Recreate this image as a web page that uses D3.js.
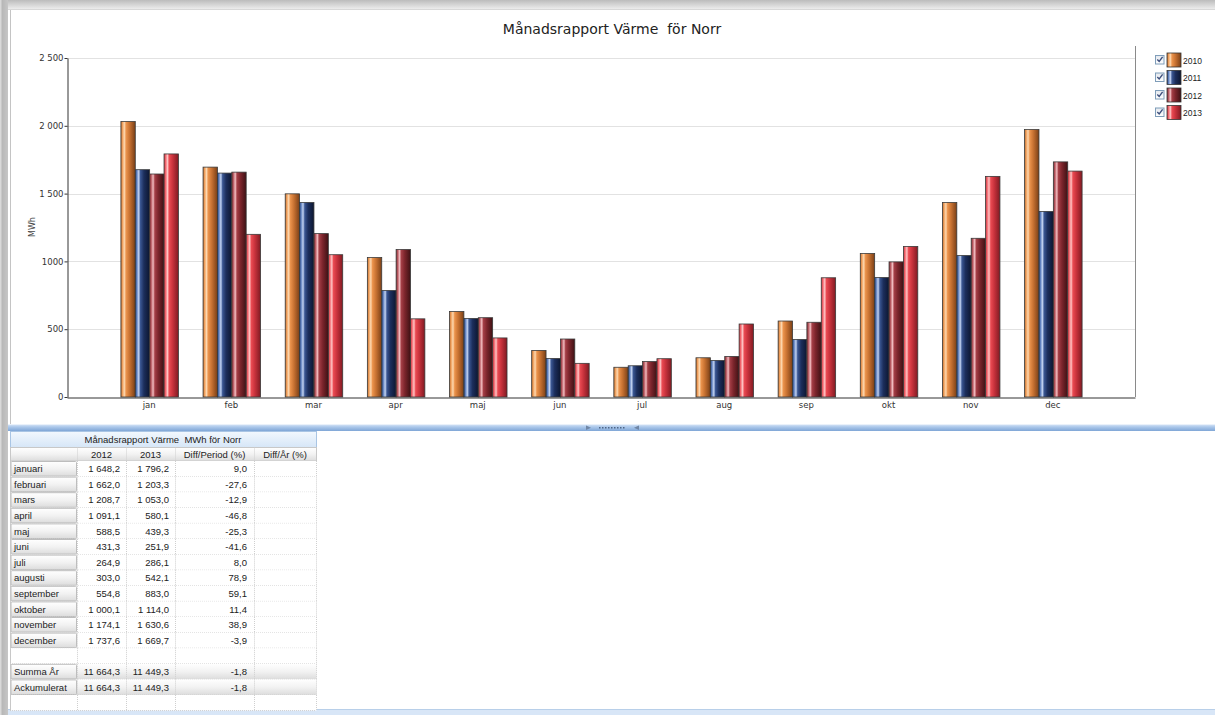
<!DOCTYPE html>
<html><head><meta charset="utf-8">
<script src="https://cdn.jsdelivr.net/npm/d3@7"></script>
<style>html,body{margin:0;padding:0;background:#fff;overflow:hidden}</style>
</head><body>
<svg id="c" width="1215" height="715" xmlns="http://www.w3.org/2000/svg"></svg>
<script>
// ---------- data ----------
const chartTitle = "Månadsrapport Värme  för Norr";
const yAxisTitle = "MWh";
const months = ["jan","feb","mar","apr","maj","jun","jul","aug","sep","okt","nov","dec"];
const years = ["2010","2011","2012","2013"];
const values2010 = [2035,1699,1502,1032,634,347,223,293,564,1062,1438,1976];
const values2011 = [1680,1655,1438,789,583,288,234,273,428,885,1047,1372];
const values2012 = [1648.2,1662.0,1208.7,1091.1,588.5,431.3,264.9,303.0,554.8,1000.1,1174.1,1737.6];
const values2013 = [1796.2,1203.3,1053.0,580.1,439.3,251.9,286.1,542.1,883.0,1114.0,1630.6,1669.7];
const yTickValues = [0,500,1000,1500,2000,2500];
const yTickLabels = ["0","500","1000","1 500","2 000","2 500"];

const tableTitle = "Månadsrapport Värme  MWh för Norr";
const tableHeaders = ["2012","2013","Diff/Period (%)","Diff/År (%)"];
const tableMonths = ["januari","februari","mars","april","maj","juni","juli","augusti","september","oktober","november","december"];
const diffPeriod = [9.0,-27.6,-12.9,-46.8,-25.3,-41.6,8.0,78.9,59.1,11.4,38.9,-3.9];
const summaryLabels = ["Summa År","Ackumulerat"];
const summary2012 = [11664.3,11664.3];
const summary2013 = [11449.3,11449.3];
const summaryDiff = [-1.8,-1.8];

// ---------- setup ----------
const series = [values2010, values2011, values2012, values2013];
const svg = d3.select("#c");
const defs = svg.append("defs");
const FONT = "'DejaVu Sans', Verdana, sans-serif";
const TFONT = "'Liberation Sans', Arial, sans-serif";

function lin(id, stops, vertical) {
  const g = defs.append("linearGradient").attr("id", id)
    .attr("x1", 0).attr("y1", 0).attr("x2", vertical ? 0 : 1).attr("y2", vertical ? 1 : 0);
  stops.forEach(s => g.append("stop").attr("offset", s[0]).attr("stop-color", s[1]));
}
const barStops = {
  "2010": [[0,"#b5682c"],[0.1,"#ee9c58"],[0.24,"#fdd8b0"],[0.36,"#eb934c"],[0.6,"#c87232"],[1,"#7a3f16"]],
  "2011": [[0,"#2a4272"],[0.1,"#5a7cbc"],[0.24,"#c4d4f2"],[0.36,"#3a5692"],[0.6,"#1c2e5c"],[1,"#0c1630"]],
  "2012": [[0,"#7c2c32"],[0.1,"#b4545c"],[0.24,"#f2bcc0"],[0.36,"#a43e46"],[0.6,"#7c252c"],[1,"#3e1114"]],
  "2013": [[0,"#c4323a"],[0.1,"#f0626a"],[0.24,"#ffc4c4"],[0.36,"#ea4a52"],[0.6,"#c8323c"],[1,"#801a22"]]
};
years.forEach(y => lin("g" + y, barStops[y], false));
lin("topShade", [[0,"#bcbcbc"],[1,"#ececec"]], true);
lin("leftShade", [[0,"#e2e2e2"],[0.3,"#b8b8b8"],[1,"#c6c6c6"]], false);
lin("splitter", [[0,"#d4e3f6"],[0.4,"#a9c6ea"],[1,"#7fa6d6"]], true);
lin("blueHead", [[0,"#f2f8fe"],[1,"#d6e6f7"]], true);
lin("grayCell", [[0,"#ffffff"],[0.5,"#f2f2f2"],[1,"#dcdcdc"]], true);
lin("chk", [[0,"#e4e8ee"],[1,"#ffffff"]], true);

// ---------- window chrome ----------
svg.append("rect").attr("x",0).attr("y",0).attr("width",1215).attr("height",715).attr("fill","#fff");
svg.append("rect").attr("x",0).attr("y",0).attr("width",1215).attr("height",9).attr("fill","url(#topShade)");
svg.append("rect").attr("x",0).attr("y",0).attr("width",8).attr("height",715).attr("fill","url(#leftShade)");
svg.append("line").attr("x1",10.5).attr("x2",10.5).attr("y1",9).attr("y2",424).attr("stroke","#c4c4c4");
svg.append("line").attr("x1",8).attr("x2",1215).attr("y1",9.5).attr("y2",9.5).attr("stroke","#d8d8d8");

// ---------- chart ----------
const plotL = 67, plotR = 1135, plotT = 58, plotB = 397;
const y = d3.scaleLinear().domain([0, 2500]).range([plotB, plotT]);
const x0 = d3.scaleBand().domain(months).range([plotL, plotR]).paddingInner(0.3).paddingOuter(0.65);
const x1 = d3.scaleBand().domain(years).range([0, x0.bandwidth()]);

// gridlines
svg.append("g").selectAll("line").data(yTickValues.filter(v => v > 0)).join("line")
  .attr("x1", plotL).attr("x2", plotR)
  .attr("y1", d => Math.round(y(d)) + 0.5).attr("y2", d => Math.round(y(d)) + 0.5)
  .attr("stroke", "#e2e2e2");
// right border
svg.append("line").attr("x1", plotR + 0.5).attr("x2", plotR + 0.5).attr("y1", 46).attr("y2", plotB)
  .attr("stroke", "#8a8a8a");

// title
svg.append("text").attr("x", 612).attr("y", 34).attr("text-anchor", "middle")
  .attr("font-family", FONT).attr("font-size", 14).attr("fill", "#222")
  .style("white-space", "pre").text(chartTitle);

// bars
const groups = svg.append("g").selectAll("g").data(months).join("g")
  .attr("transform", d => `translate(${x0(d)},0)`);
groups.selectAll("rect").data((m, i) => years.map((yr, k) => ({yr, v: series[k][i]}))).join("rect")
  .attr("x", d => x1(d.yr) + 0.5)
  .attr("y", d => y(d.v) + 0.5)
  .attr("width", x1.bandwidth())
  .attr("height", d => plotB - y(d.v) - 0.5)
  .attr("fill", d => `url(#g${d.yr})`)
  .attr("stroke", "#3a3a3a").attr("stroke-width", 0.8);

// y axis
const yAxis = d3.axisLeft(y).tickValues(yTickValues).tickSize(3).tickSizeOuter(0)
  .tickFormat((d, i) => yTickLabels[i]);
const gy = svg.append("g").attr("transform", `translate(${plotL + 0.5},0)`).call(yAxis);
gy.select(".domain").attr("stroke", "#333");
gy.selectAll(".tick line").attr("stroke", "#333");
gy.selectAll(".tick text").attr("font-family", FONT).attr("font-size", 8.5).attr("fill", "#333").attr("x", -4);

// x axis
const xAxis = d3.axisBottom(x0).tickSize(0).tickSizeOuter(0);
const gx = svg.append("g").attr("transform", `translate(0,${plotB + 0.5})`).call(xAxis);
gx.select(".domain").attr("stroke", "#333");
gx.selectAll(".tick text").attr("font-family", FONT).attr("font-size", 8.5).attr("fill", "#333").attr("dy", "0.9em");

// y title
svg.append("text").attr("transform", "translate(35,227) rotate(-90)").attr("text-anchor", "middle")
  .attr("font-family", FONT).attr("font-size", 8).attr("fill", "#444").text(yAxisTitle);

// legend
const leg = svg.append("g").selectAll("g").data(years).join("g")
  .attr("transform", (d, i) => `translate(1155,${52.5 + i * 17.5})`);
leg.append("rect").attr("x", 0.5).attr("y", 3).attr("width", 8.5).attr("height", 8.5)
  .attr("fill", "url(#chk)").attr("stroke", "#7f9db9");
leg.append("path").attr("d", "M2.3,7 L4.2,9 L7.6,4.4").attr("fill", "none")
  .attr("stroke", "#3d4f7c").attr("stroke-width", 1.4);
leg.append("rect").attr("x", 12).attr("y", 0.5).attr("width", 14).attr("height", 14)
  .attr("fill", d => `url(#g${d})`).attr("stroke", "#333").attr("stroke-width", 0.8);
leg.append("text").attr("x", 28).attr("y", 11).attr("font-family", TFONT).attr("font-size", 8.5)
  .attr("fill", "#222").text(d => d);

// ---------- splitter ----------
svg.append("rect").attr("x", 8).attr("y", 424.5).attr("width", 1207).attr("height", 6.5).attr("fill", "url(#splitter)");
svg.append("path").attr("d", "M586,425.5 L591,427.8 L586,430 Z").attr("fill", "#6f86a6");
svg.append("path").attr("d", "M639,425.5 L634,427.8 L639,430 Z").attr("fill", "#6f86a6");
svg.append("g").selectAll("rect").data(d3.range(9)).join("rect")
  .attr("x", d => 599 + d * 3).attr("y", 427).attr("width", 1.5).attr("height", 1.5).attr("fill", "#4e6688");

// bottom bar
svg.append("rect").attr("x", 8).attr("y", 709.5).attr("width", 1207).attr("height", 6).attr("fill", "#d8e6f7");
svg.append("line").attr("x1", 8).attr("x2", 1215).attr("y1", 709.5).attr("y2", 709.5).attr("stroke", "#b8cfe9");

// ---------- table ----------
const loc = d3.formatLocale({decimal: ",", thousands: "\u00a0", grouping: [3], currency: ["", ""], minus: "-"});
const fmt = loc.format(",.1f");
const colX = [10, 77, 126, 175, 254, 316];
const tbl = svg.append("g").attr("font-family", TFONT).attr("font-size", 9.5).attr("fill", "#222");
const r1T = 431.5, r1B = 447.5, r2B = 461, rowH = 15.6;

// title row
tbl.append("rect").attr("x", colX[0] + 0.5).attr("y", r1T).attr("width", colX[5] - colX[0]).attr("height", r1B - r1T)
  .attr("fill", "url(#blueHead)").attr("stroke", "#a9c5e4");
tbl.append("text").attr("x", (colX[0] + colX[5]) / 2).attr("y", r1B - 4.5).attr("text-anchor", "middle")
  .style("white-space", "pre").text(tableTitle);

// header row
tbl.append("rect").attr("x", colX[0] + 0.5).attr("y", r1B).attr("width", colX[5] - colX[0]).attr("height", r2B - r1B)
  .attr("fill", "url(#grayCell)").attr("stroke", "#c8c8c8");
tbl.selectAll(".hsep").data(colX.slice(1, 5)).join("line")
  .attr("x1", d => d + 0.5).attr("x2", d => d + 0.5).attr("y1", r1B).attr("y2", r2B)
  .attr("stroke", "#cfcfcf").attr("stroke-dasharray", "1,1");
tbl.selectAll(".htxt").data(tableHeaders).join("text")
  .attr("x", (d, i) => (colX[i + 1] + colX[i + 2]) / 2).attr("y", r2B - 3.5)
  .attr("text-anchor", "middle").text(d => d);

// body rows
const rows = [];
tableMonths.forEach((m, i) => rows.push({type: "m", label: m, a: fmt(values2012[i]), b: fmt(values2013[i]), c: fmt(diffPeriod[i])}));
rows.push({type: "blank", label: "", a: "", b: "", c: ""});
summaryLabels.forEach((s, i) => rows.push({type: "sum", label: s, a: fmt(summary2012[i]), b: fmt(summary2013[i]), c: fmt(summaryDiff[i])}));
rows.push({type: "blank", label: "", a: "", b: "", c: ""});

const rg = tbl.selectAll(".row").data(rows).join("g")
  .attr("transform", (d, i) => `translate(0,${r2B + i * rowH})`);
// full-row background
rg.append("rect").attr("x", colX[0] + 0.5).attr("y", 0).attr("width", colX[5] - colX[0]).attr("height", rowH)
  .attr("fill", d => d.type === "sum" ? "url(#grayCell)" : "#fff").attr("stroke", "none");
// label cell
rg.filter(d => d.type !== "blank").append("rect")
  .attr("x", colX[0] + 1).attr("y", 0.5).attr("width", colX[1] - colX[0] - 1.5).attr("height", rowH - 1)
  .attr("fill", "url(#grayCell)").attr("stroke", "#bdbdbd").attr("rx", 1);
// dotted cell borders
rg.append("line").attr("x1", colX[0]).attr("x2", colX[5]).attr("y1", rowH).attr("y2", rowH)
  .attr("stroke", "#cfcfcf").attr("stroke-dasharray", "1,1");
rg.selectAll(".vs").data(colX.slice(1)).join("line")
  .attr("x1", d => d + 0.5).attr("x2", d => d + 0.5).attr("y1", 0).attr("y2", rowH)
  .attr("stroke", "#cfcfcf").attr("stroke-dasharray", "1,1");
rg.append("line").attr("x1", colX[0] + 0.5).attr("x2", colX[0] + 0.5).attr("y1", 0).attr("y2", rowH)
  .attr("stroke", "#c8c8c8");
// texts
rg.append("text").attr("x", colX[0] + 4).attr("y", rowH - 4.3).text(d => d.label);
rg.append("text").attr("x", colX[2] - 6).attr("y", rowH - 4.3).attr("text-anchor", "end").text(d => d.a);
rg.append("text").attr("x", colX[3] - 6).attr("y", rowH - 4.3).attr("text-anchor", "end").text(d => d.b);
rg.append("text").attr("x", colX[4] - 7).attr("y", rowH - 4.3).attr("text-anchor", "end").text(d => d.c);
</script>
</body></html>
